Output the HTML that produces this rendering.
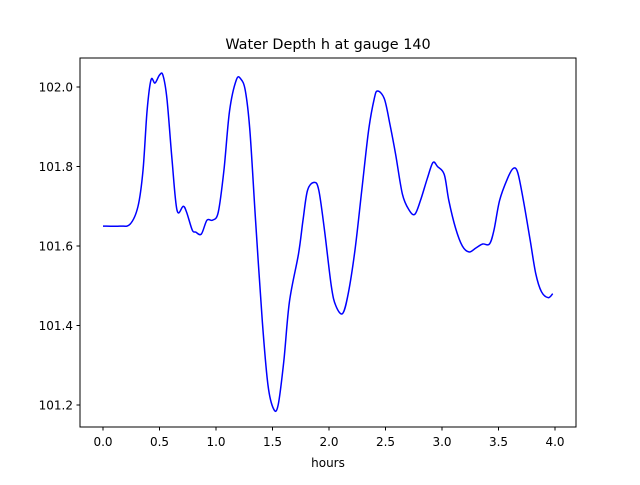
<!DOCTYPE html>
<html><head><meta charset="utf-8"><style>
body{margin:0;background:#fff;}
svg text{font-family:"DejaVu Sans","Liberation Sans",sans-serif;fill:#000;}
</style></head><body>
<svg id="chart" width="640" height="480" xmlns="http://www.w3.org/2000/svg">
<rect width="640" height="480" fill="#fff"/>
<text x="328" y="49" font-size="14.4" text-anchor="middle">Water Depth h at gauge 140</text>
<text x="328" y="467" font-size="12" text-anchor="middle">hours</text>
<g id="xt"></g><g id="yt"></g>
<path id="line" fill="none" stroke="#0000ff" stroke-width="1.5" stroke-linejoin="round"/>
<rect x="80" y="58" width="496" height="369" fill="none" stroke="#000" stroke-width="1"/>
</svg>
<script>
const hours=[0,0.15,0.24,0.31,0.354,0.39,0.425,0.46,0.5,0.53,0.566,0.61,0.655,0.71,0.74,0.79,0.82,0.87,0.92,0.97,1.02,1.07,1.12,1.18,1.22,1.26,1.3,1.35,1.41,1.46,1.51,1.55,1.6,1.65,1.73,1.77,1.81,1.87,1.91,1.96,2.02,2.06,2.12,2.17,2.23,2.29,2.35,2.4,2.43,2.49,2.54,2.59,2.65,2.71,2.76,2.81,2.87,2.92,2.96,3.02,3.06,3.12,3.18,3.24,3.3,3.36,3.42,3.46,3.51,3.58,3.63,3.67,3.72,3.78,3.83,3.88,3.94,3.98];
const depth=[101.65,101.65,101.655,101.70,101.79,101.94,102.018,102.01,102.03,102.03,101.97,101.82,101.69,101.70,101.685,101.64,101.635,101.63,101.665,101.665,101.685,101.79,101.94,102.018,102.02,101.99,101.89,101.665,101.41,101.25,101.19,101.2,101.31,101.46,101.58,101.665,101.74,101.76,101.74,101.64,101.50,101.45,101.43,101.48,101.59,101.74,101.89,101.97,101.99,101.97,101.905,101.83,101.73,101.69,101.68,101.715,101.77,101.81,101.80,101.78,101.715,101.645,101.60,101.585,101.595,101.605,101.605,101.64,101.715,101.77,101.795,101.785,101.715,101.615,101.53,101.485,101.47,101.48];
const xTicks=[0,0.5,1,1.5,2,2.5,3,3.5,4];
const xTickLabels=["0.0","0.5","1.0","1.5","2.0","2.5","3.0","3.5","4.0"];
const yTicks=[101.2,101.4,101.6,101.8,102.0];
const yTickLabels=["101.2","101.4","101.6","101.8","102.0"];
const X=v=>103+v*113;
const Y=v=>87+(102-v)*397.5;
const NS="http://www.w3.org/2000/svg";
const xt=document.getElementById('xt'),yt=document.getElementById('yt');
xTicks.forEach((t,i)=>{
 const l=document.createElementNS(NS,'line');
 
 
 l.setAttribute('x1',X(t));l.setAttribute('x2',X(t));l.setAttribute('y1',427);l.setAttribute('y2',430.5);l.setAttribute('stroke','#000');
 xt.appendChild(l);
 const tx=document.createElementNS(NS,'text');
 
 
 tx.setAttribute('x',X(t));tx.setAttribute('y',446);tx.setAttribute('font-size','12');tx.setAttribute('text-anchor','middle');
 tx.textContent=xTickLabels[i];xt.appendChild(tx);
});
yTicks.forEach((t,i)=>{
 const l=document.createElementNS(NS,'line');
 
 
 l.setAttribute('x1',76.5);l.setAttribute('x2',80);l.setAttribute('y1',Y(t));l.setAttribute('y2',Y(t));l.setAttribute('stroke','#000');
 yt.appendChild(l);
 const tx=document.createElementNS(NS,'text');
 
 
 tx.setAttribute('x',73);tx.setAttribute('y',Y(t)+4.5);tx.setAttribute('font-size','12');tx.setAttribute('text-anchor','end');
 tx.textContent=yTickLabels[i];yt.appendChild(tx);
});
// Catmull-Rom smoothing
const pts=hours.map((h,i)=>[X(h),Y(depth[i])]);
let d='M'+pts[0][0]+','+pts[0][1];
for(let i=0;i<pts.length-1;i++){
 const p0=pts[Math.max(0,i-1)],p1=pts[i],p2=pts[i+1],p3=pts[Math.min(pts.length-1,i+2)];
 const c1=[p1[0]+(p2[0]-p0[0])/6,p1[1]+(p2[1]-p0[1])/6];
 const c2=[p2[0]-(p3[0]-p1[0])/6,p2[1]-(p3[1]-p1[1])/6];
 d+=` C${c1[0]},${c1[1]} ${c2[0]},${c2[1]} ${p2[0]},${p2[1]}`;
}
document.getElementById('line').setAttribute('d',d);
</script>
</body></html>
